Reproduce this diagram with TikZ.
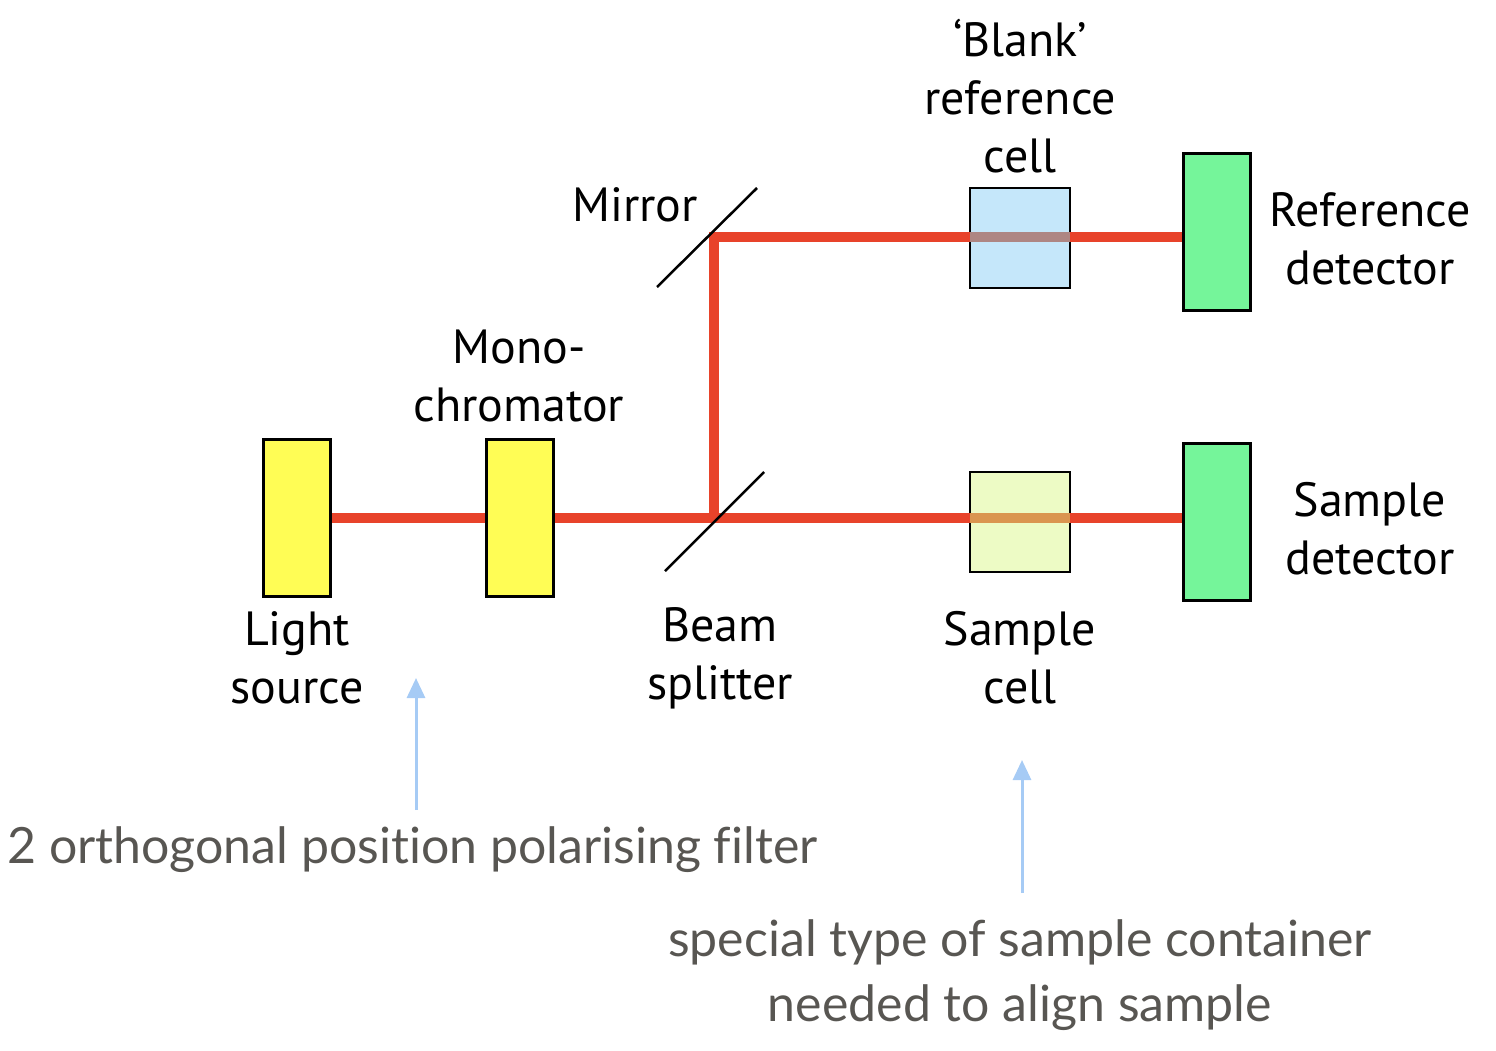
\documentclass[tikz,border=0pt]{standalone}
\usepackage{fontspec}
\setmainfont{PT Sans}
\newfontfamily\notefont[Ligatures=NoCommon]{Lato}
\usetikzlibrary{arrows.meta}
\definecolor{beamred}{RGB}{232,67,42}
\definecolor{lampyellow}{RGB}{255,253,85}
\definecolor{detgreen}{RGB}{117,245,154}
\definecolor{refblue}{RGB}{197,231,250}
\definecolor{samgreen}{RGB}{237,251,197}
\definecolor{refmix}{RGB}{174,134,131}
\definecolor{sammix}{RGB}{218,149,80}
\definecolor{notegrey}{RGB}{88,86,82}
\definecolor{pointblue}{RGB}{166,203,245}
\tikzstyle{lamp} = [rectangle, minimum width=67pt, minimum height=157pt, draw=black, line width=2.5pt, fill=lampyellow]
\tikzstyle{detector} = [rectangle, minimum width=67pt, minimum height=157pt, draw=black, line width=2.5pt, fill=detgreen]
\tikzstyle{cuvette} = [rectangle, minimum width=100pt, minimum height=100pt, draw=black, line width=2.5pt]
\tikzstyle{beam} = [line width=10pt, draw=beamred, line join=miter]
\tikzstyle{optic} = [line width=2.5pt, draw=black]
\tikzstyle{label} = [align=center, font=\fontsize{48}{58}\selectfont]
\tikzstyle{note} = [align=center, text=notegrey, font=\notefont\fontsize{50}{65}\selectfont]
\tikzstyle{pointer} = [line width=3pt, draw=pointblue, -{Triangle[width=18pt,length=20pt]}]

\begin{document}
\begin{tikzpicture}[x=1pt, y=-1pt]
        \useasboundingbox (0,0) rectangle (1496,1050);
        \node (light) [lamp] at (297,518) {};
        \node (mono) [lamp] at (520,518) {};
        \node (refcell) [cuvette, fill=refblue] at (1020,238) {};
        \node (samcell) [cuvette, fill=samgreen] at (1020,522) {};
        \node (refdet) [detector] at (1217,232) {};
        \node (samdet) [detector] at (1217,522) {};
        \coordinate (split) at (714,518);
        \coordinate (mirror) at (714,237);

        % light path
        \draw[beam] (light.east) -- (mono.west);
        \draw[beam] (mono.east) -- (split) -- (samdet.west |- split);
        \draw[beam] (split) -- (mirror) -- (refdet.west |- mirror);
        \draw[beam, draw=refmix, shorten <=1.3pt, shorten >=1.3pt] (refcell.west |- mirror) -- (refcell.east |- mirror);
        \draw[beam, draw=sammix, shorten <=1.3pt, shorten >=1.3pt] (samcell.west |- split) -- (samcell.east |- split);
        \draw[optic] (mirror) ++(-57,50) -- ++(100,-99);
        \draw[optic] (split) ++(-49,53) -- ++(99,-99);

        \node (blanklab) [label] at (1020,96) {‘Blank’\\reference\\cell};
        \node (mirrorlab) [label] at (635,205) {Mirror};
        \node (monolab) [label] at (519,376) {Mono-\\chromator};
        \node (refdetlab) [label] at (1370,239) {Reference\\detector};
        \node (samdetlab) [label] at (1370,529) {Sample\\detector};
        \node (lightlab) [label] at (297,658) {Light\\source};
        \node (splitlab) [label] at (720,658) {Beam\\splitter};
        \node (samcelllab) [label] at (1020,658) {Sample\\cell};

        \node (polarnote) [note, anchor=west] at (4,850) {2 orthogonal position polarising filter};
        \node (cellnote) [note] at (1020,975) {special type of sample container\\needed to align sample};
        \coordinate (polartip) at (416,678);
        \coordinate (polarfoot) at (416,810);
        \coordinate (celltip) at (1022,760);
        \coordinate (cellfoot) at (1022,893);
        \draw[pointer] (polarfoot) -- (polartip);
        \draw[pointer] (cellfoot) -- (celltip);
\end{tikzpicture}
\end{document}
